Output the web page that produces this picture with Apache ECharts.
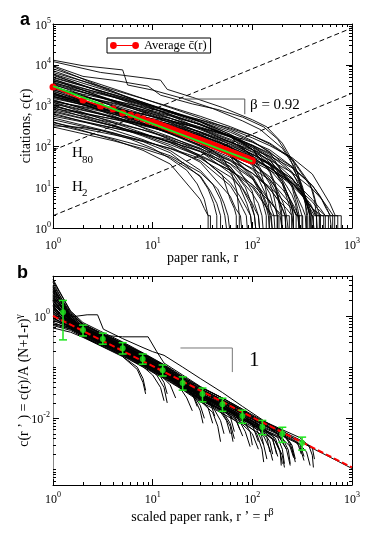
<!DOCTYPE html>
<html><head><meta charset="utf-8">
<script src="https://cdn.jsdelivr.net/npm/echarts@6.0.0/dist/echarts.min.js"></script>
<style>html,body{margin:0;padding:0;background:#fff}#c{width:374px;height:539px}</style>
</head><body><div id="c"></div>
<script>
// ---------- Panel a data ----------
const curvesA = [
[[1,13000],[2,9500],[5,7500],[5.6,3200],[10,2400],[20,1500],[40,850],[80,420],[120,260],[200,90],[280,25],[330,6],[360,2],[360,1]],
[[1,12000],[3,6500],[8,4800],[12,4200],[14,2500],[25,1600],[50,900],[100,450],[140,300],[200,120],[260,40],[320,10],[360,3],[380,2],[380,1]],
[[1,9500],[2,5200],[4,4200],[9,3000],[12,1800],[25,1100],[45,800],[80,520],[130,300],[180,150],[240,50],[300,12],[340,4],[350,2],[350,1]],
[[1,320],[2,290],[3,250],[6,150],[10,90],[15,50],[22,26],[28,12],[33,5],[36,2],[36,1]],
[[1,8000],[2,4570],[4,2620],[8,1490],[15,890],[30,495],[60,265],[100,162],[150,104],[250,53],[400,21],[600,4],[680,2],[720,2],[720,1]],
[[1,6500],[2,3980],[4,2430],[8,1480],[15,930],[30,548],[60,305],[100,185],[150,114],[250,48],[400,9],[450,3],[480,2],[480,1]],
[[1,5500],[2,3150],[4,1800],[8,1020],[15,610],[30,337],[60,179],[100,107],[150,68],[250,32],[400,11],[500,5],[560,3],[600,2],[620,2],[620,1]],
[[1,5000],[2,3055],[4,1867],[8,1130],[15,708],[30,412],[60,223],[100,129],[150,74],[250,24],[300,10],[350,4],[380,2],[390,2],[390,1]],
[[1,4500],[2,2400],[4,1277],[8,678],[15,378],[30,194],[60,95],[100,53],[150,30],[250,13],[400,3],[470,2],[520,2],[520,1]],
[[1,4000],[2,2614],[4,1705],[8,1102],[15,730],[30,444],[60,246],[100,137],[150,70],[250,10],[270,5],[285,3],[295,2],[295,1]],
[[1,3800],[2,2166],[4,1238],[8,699],[15,415],[30,226],[60,115],[100,65],[150,38],[250,14],[330,6],[380,3],[420,2],[440,2],[440,1]],
[[1,3500],[2,2137],[4,1304],[8,788],[15,492],[30,283],[60,150],[100,84],[150,45],[250,11],[290,5],[320,3],[340,2],[345,2],[345,1]],
[[1,3200],[2,2087],[4,1359],[8,874],[15,574],[30,343],[60,182],[100,94],[150,40],[200,12],[225,5],[240,3],[248,2],[248,1]],
[[1,3000],[2,1713],[4,980],[8,556],[15,332],[30,183],[60,96],[100,57],[150,36],[250,16],[400,5],[480,3],[540,2],[580,2],[580,1]],
[[1,2800],[2,1706],[4,1039],[8,624],[15,386],[30,219],[60,111],[100,57],[150,27],[200,12],[240,5],[260,3],[275,2],[275,1]],
[[1,2600],[2,1702],[4,1114],[8,724],[15,483],[30,301],[60,175],[100,107],[150,63],[250,22],[300,12],[350,5],[380,3],[395,2],[395,1]],
[[1,2500],[2,1327],[4,703],[8,370],[15,202],[30,100],[60,45],[100,22],[150,10],[200,5],[250,3],[280,2],[295,2],[295,1]],
[[1,2400],[2,1671],[4,1164],[8,799],[15,551],[30,344],[60,181],[100,85],[150,25],[170,12],[185,5],[195,3],[198,2],[198,1]],
[[1,2200],[2,1347],[4,824],[8,500],[15,315],[30,186],[60,103],[100,63],[150,39],[250,16],[400,3],[430,2],[470,2],[470,1]],
[[1,2000],[2,1298],[4,841],[8,536],[15,346],[30,198],[60,93],[100,37],[150,7],[160,4],[170,3],[178,2],[178,1]],
[[1,1900],[2,1081],[4,616],[8,347],[15,205],[30,109],[60,54],[100,29],[150,15],[250,3.5],[280,2],[320,2],[320,1]],
[[1,1800],[2,1260],[4,883],[8,614],[15,432],[30,284],[60,170],[100,103],[150,57],[250,12],[280,5],[300,3],[315,2],[315,1]],
[[1,1700],[2,1034],[4,627],[8,375],[15,230],[30,126],[60,60],[100,27],[150,9],[180,5],[200,3],[215,2],[215,1]],
[[1,1600],[2,1035],[4,668],[8,422],[15,269],[30,149],[60,64],[100,19],[120,9],[135,4],[145,2],[148,2],[148,1]],
[[1,1500],[2,1048],[4,733],[8,507],[15,354],[30,228],[60,130],[100,72],[150,34],[200,14],[230,6],[250,3],[258,2],[258,1]],
[[1,1400],[2,841],[4,504],[8,294],[15,172],[30,84],[60,28],[100,4],[105,3],[115,2],[118,2],[118,1]],
[[1,1300],[2,903],[4,627],[8,428],[15,292],[30,178],[60,87],[100,34],[150,4],[155,3],[165,2],[168,2],[168,1]],
[[1,1200],[2,786],[4,515],[8,334],[15,224],[30,140],[60,82],[100,50],[150,30],[250,11],[320,6],[370,3],[400,2],[415,2],[415,1]],
[[1,1100],[2,761],[4,527],[8,356],[15,239],[30,140],[60,61],[100,17],[120,7],[132,3],[138,2],[138,1]],
[[1,1000],[2,640],[4,409],[8,253],[15,154],[30,76],[60,22],[75,10],[88,4],[96,2],[99,2],[99,1]],
[[1,950],[2,663],[4,463],[8,319],[15,222],[30,141],[60,77],[100,40],[150,16],[180,8],[205,4],[220,2],[228,2],[228,1]],
[[1,900],[2,534],[4,316],[8,179],[15,99],[30,41],[60,6],[68,3],[76,2],[78,2],[78,1]],
[[1,800],[2,550],[4,378],[8,253],[15,165],[30,91],[60,32],[85,10],[98,4],[105,2],[108,2],[108,1]],
[[1,700],[2,474],[4,320],[8,206],[15,126],[30,55],[50,20],[60,5],[66,3],[69,2],[69,1]],
[[1,650],[2,406],[4,253],[8,147],[15,79],[30,26],[40,12],[48,5],[53,2],[55,2],[55,1]],
[[1,600],[2,414],[4,286],[8,193],[15,129],[30,74],[60,31],[100,7],[115,4],[125,2],[128,2],[128,1]],
[[1,500],[2,330],[4,217],[8,131],[15,70],[30,18],[36,9],[41,4],[44,2],[44,1]],
[[1,450],[2,308],[4,210],[8,139],[15,88],[30,45],[60,11],[70,6],[80,3],[87,2],[89,2],[89,1]],
[[1,400],[2,243],[4,147],[8,80],[15,37],[30,5],[33,3],[36,2],[38,2],[38,1]],
[[1,350],[2,235],[4,157],[8,100],[15,59],[30,23],[45,9],[52,4],[57,2],[59,2],[59,1]],
[[1,3000],[2,1577],[4,829],[8,428],[15,226],[30,103],[60,37],[100,11],[120,6],[140,3],[152,2],[158,2],[158,1]],
[[1,4200],[2,2380],[4,1349],[8,751],[15,435],[30,222],[60,98],[100,42],[150,14],[180,6],[200,3],[212,2],[218,2],[218,1]],
[[1,2100],[2,1092],[4,567],[8,285],[15,144],[30,58],[60,13],[75,6],[88,3],[96,2],[99,2],[99,1]],
[[1,5800],[2,3096],[4,1653],[8,880],[15,493],[30,256],[60,130],[100,75],[150,46],[250,23],[400,9],[500,5],[580,3],[650,2],[780,2],[780,1]],
[[1,1700],[2,1119],[4,732],[8,478],[15,323],[30,206],[60,126],[100,83],[150,57],[250,30],[400,11],[480,6],[550,3],[610,2],[640,2],[640,1]],
[[1,1200],[2,678],[4,383],[8,212],[15,122],[30,61],[60,26],[100,10],[130,4],[160,2],[185,2],[185,1]],
[[1,7200],[2,3970],[4,2190],[8,1200],[15,680],[30,359],[60,171],[100,96],[150,53],[250,17],[300,9],[350,4],[390,2],[410,2],[410,1]],
[[1,6000],[2,3534],[4,2082],[8,1210],[15,728],[30,400],[60,198],[100,103],[150,49],[250,6.5],[270,4],[285,2],[295,2],[295,1]],
[[1,4800],[2,3012],[4,1890],[8,1169],[15,735],[30,414],[60,196],[100,85],[150,23],[170,10],[185,4],[195,2],[198,2],[198,1]],
[[1,3600],[2,2410],[4,1614],[8,1053],[15,695],[30,397],[60,176],[100,55],[120,25],[135,10],[145,4],[148,2],[148,1]],
[[1,3400],[2,1815],[4,967],[8,515],[15,288],[30,149],[60,75],[100,43],[150,26],[250,12.4],[400,4.4],[450,3],[540,2],[670,2],[670,1]],
[[1,2700],[2,1895],[4,1332],[8,930],[15,662],[30,446],[60,281],[100,185],[150,120],[250,51],[380,12],[420,5],[440,2],[448,2],[448,1]],
[[1,2300],[2,1261],[4,692],[8,375],[15,210],[30,107],[60,48],[100,22],[150,9],[180,5],[220,3],[250,2],[258,2],[258,1]],
[[1,2000],[2,1184],[4,700],[8,411],[15,251],[30,143],[60,78],[100,47],[150,29],[250,13],[400,3],[500,2],[540,2],[540,1]],
[[1,1650],[2,1188],[4,855],[8,604],[15,429],[30,271],[60,141],[100,61],[150,12],[160,8],[170,4],[178,2],[178,1]],
[[1,1350],[2,851],[4,537],[8,336],[15,215],[30,127],[60,67],[100,37],[150,18],[200,9],[240,5],[270,3],[290,2],[295,2],[295,1]],
[[1,1050],[2,595],[4,338],[8,189],[15,110],[30,57],[60,26],[100,11.7],[150,4.4],[170,3],[200,2],[235,2],[235,1]],
[[1,850],[2,641],[4,473],[8,345],[15,241],[30,120],[50,55],[62,22],[70,8],[74,2],[74,1]],
[[1,550],[2,395],[4,283],[8,200],[15,142],[30,88],[60,44],[100,17],[130,6],[145,3],[155,2],[158,2],[158,1]],
[[1,380],[2,271],[4,193],[8,133],[15,90],[30,51],[60,18],[80,9],[95,4],[105,2],[108,2],[108,1]],
[[1,300],[2,204],[4,138],[8,88],[15,54],[30,19],[38,8],[44,4],[48,2],[48,1]],
[[1,9000],[2,4473],[4,2223],[8,1098],[15,573],[30,273],[60,125],[100,64],[150,36],[250,12.7],[300,8],[380,4],[440,2],[480,2],[480,1]],
[[1,4400],[2,2678],[4,1629],[8,978],[15,604],[30,339],[60,169],[100,84],[150,36],[200,14],[230,6],[250,3],[258,2],[258,1]],
[[1,1900],[2,1223],[4,785],[8,492],[15,306],[30,161],[60,58],[100,8],[105,4],[115,2],[118,2],[118,1]],
[[1,1250],[2,940],[4,706],[8,526],[15,398],[30,283],[60,188],[100,126],[150,82],[250,32],[300,14],[340,6],[365,3],[375,2],[378,2],[378,1]],
[[1,750],[2,488],[4,316],[8,202],[15,131],[30,76],[60,38],[100,16],[150,4.6],[170,3],[190,2],[198,2],[198,1]]
];
// average citations at rank 1..100
const avgCitations = [2860,1370,980,826,660,590,525,467,417,398,
365,335,312,290,272,256,242,229,218,208,198,190,182,175,168,162,156,151,146,141,
137,133,129,125,122,119,116,113,110,107,105,102,100,98,96,94,92,90,88,86,
85,83,82,80,79,77,76,75,73,72,71,70,69,68,67,66,65,64,63,62,
61,60,60,59,58,57,57,56,55,55,54,53,53,52,51,51,50,50,49,49,
48,48,47,47,46,46,45,45,45,44];
const fitLineA = [[1,3000],[100,43]];
const lineH80 = [[1,80],[1000,80000]];
const lineH2 = [[1,2],[1000,2000]];
const slopeMarkA = [[21,1450],[84,1450],[84,615]];

// ---------- Panel b data ----------
const curvesB = [
[[1,5.2],[1.5,1.2],[2,.68],[3,.46],[5,.29],[8,.18],[13,.105],[20,.06],[30,.037],[50,.023],[80,.0135],[130,.0078],[180,.005],[220,.0025],[240,.0012]],
[[1,4.5],[1.5,1.0],[2,.62],[3,.42],[5,.26],[8,.16],[13,.096],[20,.056],[30,.034],[50,.021],[80,.0125],[130,.0075],[200,.0052],[300,.0036],[400,.0026],[500,.0021],[700,.0015],[1000,.00105]],
[[1,3.8],[1.5,.95],[2,.58],[3,.4],[5,.25],[8,.155],[13,.092],[20,.053],[30,.033],[50,.02],[80,.0118],[130,.0066],[160,.0045],[190,.0022],[200,.0013]],
[[1,3.2],[1.5,.9],[2,.56],[3,.385],[5,.24],[8,.148],[13,.088],[20,.05],[30,.03],[50,.018],[80,.0105],[110,.0062],[130,.003],[140,.0016]],
[[1,2.8],[1.5,.85],[2,.55],[3,.375],[5,.235],[8,.143],[13,.085],[20,.049],[30,.03],[50,.0185],[80,.011],[130,.0065],[200,.0045],[300,.0031],[350,.0022],[380,.0012]],
[[1,2.5],[1.5,.8],[2,.53],[3,.36],[5,.225],[8,.14],[13,.083],[20,.048],[30,.029],[50,.017],[70,.011],[85,.0055],[95,.0028]],
[[1,2.2],[1.5,.78],[2,.52],[3,.35],[5,.22],[8,.135],[13,.08],[20,.046],[30,.028],[50,.0165],[80,.0098],[130,.0058],[160,.0038],[180,.0018]],
[[1,2.0],[1.5,.72],[2,.5],[3,.34],[5,.215],[8,.132],[13,.079],[20,.045],[30,.027],[40,.017],[48,.009],[52,.005]],
[[1,1.8],[1.5,.7],[2,.49],[3,.335],[5,.21],[8,.128],[13,.076],[20,.044],[30,.027],[50,.016],[80,.0095],[130,.0056],[200,.004],[250,.0026],[270,.0014]],
[[1,1.6],[1.5,.68],[2,.48],[3,.33],[5,.205],[8,.125],[13,.074],[20,.042],[26,.026],[30,.014],[32,.008]],
[[1,1.5],[1.5,.66],[2,.47],[3,.32],[5,.2],[8,.12],[13,.071],[20,.041],[30,.025],[50,.015],[80,.0088],[110,.0052],[125,.0025],[130,.0014]],
[[1,1.35],[1.5,.64],[2,.46],[3,.31],[5,.195],[8,.118],[13,.069],[20,.04],[30,.024],[50,.0145],[70,.0085],[80,.0045]],
[[1,1.25],[1.5,.62],[2,.45],[3,.3],[5,.19],[8,.115],[13,.067],[18,.045],[22,.025],[25,.014]],
[[1,1.15],[1.5,.6],[2,.44],[3,.3],[5,.185],[8,.112],[13,.066],[20,.039],[30,.024],[50,.0145],[80,.0087],[130,.0052],[170,.0036],[200,.0019],[210,.0011]],
[[1,1.05],[1.5,.58],[2,.43],[3,.29],[5,.18],[8,.11],[12,.07],[15,.045],[17,.025]],
[[1,.95],[1.5,.57],[2,.42],[3,.285],[5,.178],[8,.108],[13,.064],[20,.038],[30,.023],[50,.014],[60,.008],[66,.004]],
[[1,.85],[1.5,.56],[2,.41],[3,.28],[5,.175],[8,.105],[13,.062],[20,.037],[30,.022],[40,.013],[45,.007],[48,.0035]],
[[1,.75],[1.5,.55],[2,.4],[3,.27],[5,.17],[8,.102],[10,.07],[12,.04],[13,.022]],
[[1,.65],[1.5,.52],[2,.39],[3,.265],[5,.165],[8,.1],[13,.06],[20,.036],[30,.021],[50,.0125],[80,.0075],[100,.005],[115,.0025]],
[[1,.58],[1.5,.48],[2,.38],[3,.26],[5,.16],[7,.1],[8,.06],[8.5,.035]],
[[1,3.5],[1.5,1.1],[2,.7],[3,.47],[5,.3],[8,.185],[13,.11],[20,.064],[30,.04],[50,.025],[80,.015],[130,.0088],[200,.006],[300,.0042],[350,.0032],[400,.0027],[420,.0016]],
[[1,4.0],[1.5,1.15],[2,.66],[3,.45],[5,.28],[8,.175],[13,.105],[20,.061],[30,.038],[50,.023],[80,.0142],[130,.0085],[200,.0058],[280,.0036],[310,.002]],
[[1,3.0],[1.5,1.0],[2,.64],[3,.44],[5,.275],[8,.17],[13,.1],[20,.058],[30,.036],[50,.022],[80,.013],[130,.0078],[200,.0054],[230,.0035],[260,.0017]],
[[1,2.6],[1.5,.92],[2,.6],[3,.42],[5,.265],[8,.165],[13,.098],[20,.057],[30,.035],[50,.021],[80,.012],[100,.0075],[115,.0035]],
[[1,2.3],[1.5,.88],[2,.59],[3,.41],[5,.26],[8,.16],[13,.095],[20,.055],[30,.034],[50,.02],[65,.012],[75,.006]],
[[1,1.9],[1.5,.84],[2,.57],[3,.4],[5,.25],[8,.155],[13,.092],[20,.052],[30,.032],[38,.02],[42,.011]],
[[1,1.7],[1.5,.8],[2,.56],[3,.39],[5,.245],[8,.15],[13,.09],[20,.051],[30,.031],[50,.019],[80,.0112],[130,.0068],[200,.0047],[300,.0032],[330,.0018]],
[[1,1.4],[1.5,.76],[2,.54],[3,.38],[5,.24],[8,.148],[13,.088],[20,.05],[30,.031],[50,.019],[80,.011],[130,.0064],[160,.004],[175,.002]],
[[1,1.2],[1.5,.74],[2,.52],[3,.365],[5,.23],[8,.142],[13,.084],[20,.048],[30,.029],[50,.0175],[60,.011],[66,.0055]],
[[1,1.0],[1.5,.7],[2,.5],[3,.35],[5,.22],[8,.136],[13,.08],[20,.046],[25,.03],[28,.017]],
[[1,.8],[1.5,.64],[2,.47],[3,.33],[5,.21],[8,.13],[13,.076],[20,.044],[30,.026],[50,.0155],[80,.0093],[130,.0055],[150,.0035],[160,.002]],
[[1,.7],[1.5,.6],[2,.45],[3,.32],[5,.2],[8,.125],[11,.085],[13,.05],[14,.03]],
[[1,1.6],[1.5,.95],[2.2,1.05],[2.8,1.05],[3.2,.55],[5,.36],[8,.24],[10,.2],[13,.17],[20,.1],[30,.06],[50,.032],[80,.017],[130,.009],[200,.0055],[250,.003],[270,.0016]],
[[1,2.2],[2,.6],[3,.42],[5,.39],[9,.39],[11,.2],[13,.12],[20,.07],[30,.042],[50,.025],[80,.014],[130,.008],[180,.0048],[220,.0025]],
[[1,1.3],[2,.55],[3,.38],[4,.3],[5,.16],[7,.09],[8,.05],[8.5,.03]],
[[1,.9],[2,.45],[3,.3],[5,.19],[8,.11],[11,.07],[13,.04],[14,.02]],
[[1,4.8],[1.5,1.25],[2,.74],[3,.5],[5,.31],[8,.19],[13,.112],[20,.066],[30,.041],[50,.025],[80,.015],[100,.011],[120,.006],[130,.003]],
[[1,3.6],[1.5,.9],[2,.6],[3,.36],[5,.21],[8,.13],[13,.075],[20,.043],[30,.026],[45,.016],[55,.009],[60,.005]],
[[1,2.9],[1.5,.82],[2,.5],[3,.33],[5,.2],[8,.12],[13,.07],[20,.04],[30,.024],[50,.014],[80,.008],[130,.0045],[150,.0025],[160,.0015]],
[[1,2.4],[1.5,.86],[2,.6],[3,.43],[5,.27],[8,.17],[13,.1],[20,.057],[30,.034],[50,.02],[80,.012],[130,.0072],[200,.005],[260,.0038],[300,.0028],[330,.0015]],
[[1,2.1],[1.5,.75],[2,.5],[3,.34],[5,.21],[8,.125],[13,.074],[20,.043],[25,.03],[30,.018],[33,.01]],
[[1,1.75],[1.5,.82],[2,.58],[3,.41],[5,.26],[8,.16],[13,.096],[20,.056],[30,.034],[50,.021],[80,.0125],[130,.0074],[200,.0049],[240,.0033],[260,.0018]],
[[1,1.45],[1.5,.7],[2,.49],[3,.34],[5,.215],[8,.13],[13,.077],[20,.045],[30,.027],[50,.016],[80,.0095],[95,.0055],[100,.003]],
[[1,1.1],[1.5,.66],[2,.48],[3,.33],[5,.21],[8,.128],[13,.077],[20,.045],[30,.028],[50,.017],[80,.0102],[130,.006],[200,.0042],[230,.0024],[240,.0013]],
[[1,.9],[1.5,.62],[2,.46],[3,.32],[5,.2],[8,.122],[13,.072],[20,.042],[30,.025],[36,.016],[40,.008]],
[[1,.68],[1.5,.55],[2,.43],[3,.3],[5,.19],[8,.115],[13,.068],[20,.04],[30,.023],[50,.013],[60,.007],[64,.0035]],
[[1,3.3],[1.5,1.05],[2,.68],[3,.46],[5,.29],[8,.18],[13,.106],[20,.062],[30,.038],[50,.023],[80,.014],[130,.0083],[200,.0056],[300,.0038],[370,.0029],[400,.0019],[410,.0011]],
[[1,2.0],[1.5,.78],[2,.54],[3,.37],[5,.235],[8,.145],[13,.087],[20,.05],[30,.03],[50,.018],[80,.0105],[130,.0062],[180,.0042],[200,.0025],[210,.0013]],
[[1,1.55],[1.5,.72],[2,.51],[3,.36],[5,.225],[8,.14],[13,.082],[20,.047],[30,.029],[50,.0172],[80,.0102],[130,.006],[170,.0041],[190,.0023],[195,.0012]],
[[1,1.2],[1.5,.69],[2,.5],[3,.35],[5,.222],[8,.137],[13,.081],[20,.047],[30,.028],[50,.0168],[80,.01],[110,.0068],[140,.0042],[150,.0022]]
];
const fitLineB = [[1,1.0],[10,0.105],[100,0.0105],[1000,0.0011]];
const binRank = [1.26,2.0,3.16,5.0,7.94,12.6,20.0,31.6,50.1,79.4,126,200,316];
const binMean = [1.18,0.53,0.354,0.233,0.144,0.087,0.049,0.030,0.0188,0.0111,0.0068,0.0050,0.0033];
const binLow  = [0.34,0.405,0.28,0.18,0.114,0.067,0.0355,0.021,0.0137,0.0080,0.0048,0.0034,0.0024];
const binHigh = [2.0,0.66,0.46,0.30,0.18,0.11,0.0645,0.039,0.0247,0.0144,0.0091,0.0067,0.0043];
const slopeMarkB = [[19,0.236],[63,0.236],[63,0.08]];

// ---------- Ticks ----------
const xMajor = [1,10,100,1000];
const xMinor = [2,3,4,5,6,7,8,9,20,30,40,50,60,70,80,90,200,300,400,500,600,700,800,900];
const yMajorA = [1,10,100,1000,10000,100000];
const yMinorA = [2,3,4,5,6,7,8,9,20,30,40,50,60,70,80,90,200,300,400,500,600,700,800,900,
  2000,3000,4000,5000,6000,7000,8000,9000,20000,30000,40000,50000,60000,70000,80000,90000];
const yMajorB = [1,0.01];
const yMinorB = [0.0006,0.0007,0.0008,0.0009,0.001,0.002,0.003,0.004,0.005,0.006,0.007,0.008,0.009,
  0.02,0.03,0.04,0.05,0.06,0.07,0.08,0.09,0.1,0.2,0.3,0.4,0.5,0.6,0.7,0.8,0.9,2,3,4,5];
const xRange = [1,1000], yRangeA = [1,100000], yRangeB = [0.0005,6];

// ---------- Build ----------
const FONT = '"Liberation Serif","Times New Roman",serif';
const GREEN = '#1fe61f';
const chart = echarts.init(document.getElementById('c'), null, {renderer:'canvas'});
const lg = v => v.map(x => Math.log10(x));
const richSup = {
  b:{fontFamily:FONT,fontSize:12,lineHeight:15,verticalAlign:'bottom',color:'#000'},
  s:{fontFamily:FONT,fontSize:8,verticalAlign:'top',color:'#000'}
};
const supFmt = v => '{b|10}{s|' + Math.round(v) + '}';

function frame(dim, grid, range, majors, minors, labels, o) {
  const pos = dim === 'x' ? ['bottom','top'] : ['left','right'];
  const base = {type:'value', gridIndex:grid, min:Math.log10(range[0]), max:Math.log10(range[1]),
    splitLine:{show:false}, silent:true, axisPointer:{show:false}};
  const mk = (p, isMajor, withLabel) => Object.assign({}, base, {
    position:p,
    axisLine:{show:isMajor, onZero:false, lineStyle:{color:(withLabel && o.lineColor) || '#000', width:1}},
    axisTick:{show:true, inside:true, length:isMajor?6:3, customValues: lg(isMajor?majors:minors), lineStyle:{color:'#000', width:1}},
    axisLabel: withLabel ? {show:true, customValues: lg(labels), formatter:supFmt, rich:richSup, margin:o.margin} : {show:false},
    name: withLabel ? o.name : '', nameLocation:'middle', nameGap:o.nameGap, nameRotate: dim==='y'?90:0,
    nameMoveOverlap:false,
    nameTextStyle:{fontFamily:FONT, fontSize:o.nameSize||14, color:'#000', rich:o.nameRich||{}}
  });
  return [mk(pos[0],true,true), mk(pos[0],false,false), mk(pos[1],true,false), mk(pos[1],false,false)];
}

const nameRich = {
  n:{fontFamily:FONT,fontSize:14,lineHeight:17,verticalAlign:'bottom',color:'#000'},
  s:{fontFamily:FONT,fontSize:10,verticalAlign:'top',color:'#000'}
};

const xAxes = [
  {type:'log', gridIndex:0, min:xRange[0], max:xRange[1], show:false, logBase:10},
  {type:'log', gridIndex:1, min:xRange[0], max:xRange[1], show:false, logBase:10},
  ...frame('x',0,xRange,xMajor,xMinor,xMajor,{margin:9,name:'paper rank, r',nameGap:23}),
  ...frame('x',1,xRange,xMajor,xMinor,xMajor,{margin:6,name:'{n|scaled paper rank, r \u2019 = r}{s|\u03b2}',nameGap:22,nameRich:nameRich})
];
const yAxes = [
  {type:'log', gridIndex:0, min:yRangeA[0], max:yRangeA[1], show:false, logBase:10},
  {type:'log', gridIndex:1, min:yRangeB[0], max:yRangeB[1], show:false, logBase:10},
  ...frame('y',0,yRangeA,yMajorA,yMinorA,yMajorA,{margin:2,name:'citations, c(r)',nameGap:20}),
  ...frame('y',1,yRangeB,yMajorB,yMinorB,yMajorB,{margin:3,lineColor:'#888',name:'{n|c(r \u2019 ) = c(r)/A (N+1-r)}{s|\u03b3}',nameGap:22,nameRich:nameRich})
];

const series = [];
curvesA.forEach(c => series.push({type:'line', xAxisIndex:0, yAxisIndex:0, data:c, showSymbol:false, symbol:'none',
  lineStyle:{color:'#000', width:0.9}, silent:true, z:2}));
series.push({type:'line', xAxisIndex:0, yAxisIndex:0, data:lineH80, symbol:'none', lineStyle:{color:'#000',width:1,type:[5,3]}, z:3, silent:true});
series.push({type:'line', xAxisIndex:0, yAxisIndex:0, data:lineH2, symbol:'none', lineStyle:{color:'#000',width:1,type:[5,3]}, z:3, silent:true});
series.push({type:'line', xAxisIndex:0, yAxisIndex:0, data:slopeMarkA, symbol:'none', lineStyle:{color:'#555',width:1}, z:3, silent:true});
series.push({name:'Average c\u0304(r)', type:'line', xAxisIndex:0, yAxisIndex:0,
  data: avgCitations.map((c,i)=>[i+1,c]), symbol:'circle', symbolSize:7, showAllSymbol:true,
  lineStyle:{color:'#ff0000',width:1.5}, itemStyle:{color:'#ff0000'}, z:4, silent:true});
series.push({type:'line', xAxisIndex:0, yAxisIndex:0, data:fitLineA, symbol:'none', lineStyle:{color:GREEN,width:2}, z:5, silent:true});

curvesB.forEach(c => series.push({type:'line', xAxisIndex:1, yAxisIndex:1, data:c, showSymbol:false, symbol:'none',
  lineStyle:{color:'#000', width:1}, silent:true, z:2}));
series.push({type:'line', xAxisIndex:1, yAxisIndex:1, data:slopeMarkB, symbol:'none', lineStyle:{color:'#777',width:1}, z:3, silent:true});
series.push({type:'line', xAxisIndex:1, yAxisIndex:1, data:fitLineB, symbol:'none', lineStyle:{color:'#ff0000',width:2,type:[6,3]}, z:4, silent:true});
series.push({type:'custom', xAxisIndex:1, yAxisIndex:1, z:5, silent:true,
  data: binRank.map((x,i)=>[x,binLow[i],binHigh[i]]),
  encode:{x:0, y:[1,2]},
  renderItem:(params, api) => {
    const x = api.value(0);
    const a = api.coord([x, api.value(1)]), b = api.coord([x, api.value(2)]);
    const w = 4, st = {stroke:GREEN, lineWidth:1.5};
    return {type:'group', children:[
      {type:'line', shape:{x1:a[0],y1:a[1],x2:b[0],y2:b[1]}, style:st},
      {type:'line', shape:{x1:a[0]-w,y1:a[1],x2:a[0]+w,y2:a[1]}, style:st},
      {type:'line', shape:{x1:b[0]-w,y1:b[1],x2:b[0]+w,y2:b[1]}, style:st}
    ]};
  }});
series.push({type:'scatter', xAxisIndex:1, yAxisIndex:1, data: binRank.map((x,i)=>[x,binMean[i]]),
  symbol:'circle', symbolSize:6, itemStyle:{color:GREEN}, z:6, silent:true});

const txt = (x,y,t,size,extra) => Object.assign({type:'text', x:x, y:y, silent:true, z:10,
  style:Object.assign({text:t, fontFamily:FONT, fontSize:size, fill:'#000', align:'left', verticalAlign:'middle',
  textAlign:'left', textVerticalAlign:'middle'}, extra||{})});

chart.setOption({
  animation:false,
  backgroundColor:'#fff',
  grid:[
    {left:53, top:24, width:299, height:204, containLabel:false, outerBoundsMode:'none'},
    {left:53, top:276, width:299, height:209, containLabel:false, outerBoundsMode:'none'}
  ],
  xAxis:xAxes, yAxis:yAxes,
  legend:{show:true, left:107, top:38, orient:'horizontal', selectedMode:false,
    data:[{name:'Average c\u0304(r)', icon:'path://M0,4A4,4 0 1 1 8,4A4,4 0 1 1 0,4Z M26,4A4,4 0 1 1 34,4A4,4 0 1 1 26,4Z M8,3.3L26,3.3L26,4.7L8,4.7Z'}],
    itemWidth:29, itemHeight:7, padding:[1,4,1,3], borderColor:'#000', borderWidth:1, backgroundColor:'#fff',
    textStyle:{fontFamily:FONT, fontSize:12.5, color:'#000'}},
  graphic:[
    txt(20,20,'a',18,{fontFamily:'"Liberation Sans",Arial,sans-serif', fontWeight:'bold'}),
    txt(17,273,'b',18,{fontFamily:'"Liberation Sans",Arial,sans-serif', fontWeight:'bold'}),
    txt(72,153,'H',15), txt(82,160,'80',11),
    txt(72,187,'H',15), txt(82,193,'2',11),
    txt(250,105,'\u03b2 = 0.92',15),
    txt(249,360,'1',21)
  ],
  series:series
});
</script></body></html>
